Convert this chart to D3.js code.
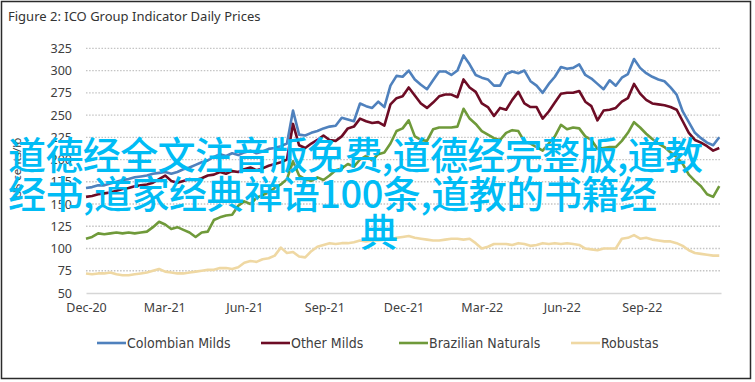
<!DOCTYPE html>
<html lang="en">
    <head>
        <meta charset="utf-8">
        <title>ICO Group Indicator Daily Prices</title>
        <script src="https://d3js.org/d3.v7.min.js"></script>
        <style>
            body { margin: 0; background: #fff; }
            svg { display: block; }
        </style>
    </head>
    <body>
        <script>
            // weekly readings, first week starting 1 Dec 2020
            const startDate = '2020-12-01';
            const yTicks = [50, 75, 100, 125, 150, 175, 200, 225, 250, 275, 300, 325];
            const xTickLabels = ['Dec-20', 'Mar-21', 'Jun-21', 'Sep-21', 'Dec-21', 'Mar-22', 'Jun-22', 'Sep-22'];
            const seriesNames = ['Colombian Milds', 'Other Milds', 'Brazilian Naturals', 'Robustas'];

            const colombianMilds = [168, 169, 171, 171, 173, 175, 177, 178, 180, 181, 182, 184, 185, 186, 184, 186, 189, 191, 194, 197,
                                    199, 203, 206, 204, 207, 205, 208, 210, 207, 209, 212, 213, 215, 218, 255, 228, 227, 230, 232, 235,
                                    237, 238, 247, 245, 243, 263, 260, 258, 265, 259, 283, 294, 293, 300, 290, 284, 279, 289, 299, 299,
                                    295, 300, 317, 307, 295, 292, 290, 283, 283, 296, 299, 297, 300, 288, 283, 275, 285, 293, 304, 302,
                                    303, 307, 295, 291, 285, 279, 289, 283, 292, 296, 313, 303, 297, 293, 290, 288, 281, 273, 254, 242,
                                    230, 224, 219, 216, 225];
            const otherMilds = [158, 159, 161, 162, 163, 165, 167, 168, 170, 171, 172, 174, 178, 182, 176, 174, 176, 178, 177, 179,
                                182, 183, 186, 184, 187, 186, 189, 191, 188, 190, 193, 195, 197, 200, 240, 216, 213, 218, 222, 227,
                                222, 221, 226, 235, 237, 246, 243, 241, 242, 238, 262, 269, 271, 281, 272, 263, 258, 264, 271, 273,
                                273, 270, 290, 281, 276, 263, 259, 249, 258, 256, 267, 276, 263, 259, 259, 246, 254, 264, 274, 275,
                                275, 277, 265, 260, 244, 255, 256, 258, 265, 269, 285, 274, 267, 263, 262, 261, 259, 256, 243, 230,
                                222, 219, 215, 210, 213];
            const brazilianNaturals = [111, 113, 117, 116, 117, 118, 117, 118, 117, 118, 119, 124, 130, 127, 122, 124, 121, 118, 113, 118,
                                       119, 132, 135, 137, 138, 148, 153, 150, 157, 160, 163, 168, 172, 178, 198, 182, 178, 176, 180, 177,
                                       182, 188, 190, 195, 192, 200, 204, 199, 206, 208, 218, 232, 235, 244, 226, 222, 221, 234, 236, 236,
                                       236, 237, 257, 246, 240, 232, 228, 224, 222, 230, 233, 232, 220, 218, 214, 210, 218, 226, 239, 234,
                                       236, 235, 226, 222, 212, 213, 214, 214, 221, 230, 242, 236, 229, 223, 218, 214, 208, 203, 195, 183,
                                       176, 170, 161, 158, 170];
            const robustas = [72, 71, 72, 72, 73, 71, 70, 70, 71, 72, 73, 75, 77, 74, 73, 72, 72, 73, 74, 75,
                              76, 76, 78, 78, 77, 79, 84, 86, 85, 88, 89, 92, 101, 95, 96, 91, 90, 97, 102, 104,
                              106, 105, 106, 106, 107, 109, 108, 109, 109, 110, 110, 112, 113, 114, 112, 111, 110, 109, 109, 110,
                              111, 111, 110, 111, 106, 100, 102, 105, 105, 105, 104, 106, 105, 103, 104, 106, 105, 106, 105, 106,
                              105, 104, 100, 99, 98, 100, 100, 100, 111, 112, 115, 111, 112, 110, 109, 108, 108, 106, 103, 98,
                              95, 94, 93, 92, 92];

            const overlayLines = ['道德经全文注音版免费,道德经完整版,道教', '经书,道家经典禅语100条,道教的书籍经', '典'];

            const w = 755;
            const h = 382;
            const colors = ['#4f81bd', '#6d0c25', '#6f9a3a', '#efd8a3'];

            const svg = d3.select('body')
                          .append('svg')
                          .attr('width', w)
                          .attr('height', h)

            svg.append('rect')
               .attr('x', 1.5)
               .attr('y', 1.5)
               .attr('width', 749)
               .attr('height', 377)
               .attr('fill', '#fff')
               .attr('stroke', '#2b2b2b')
               .attr('stroke-width', 1.5)

            svg.append('text')
               .text('Figure 2: ICO Group Indicator Daily Prices')
               .attr('x', 8)
               .attr('y', 21)
               .attr('font-family', 'Noto Sans, sans-serif')
               .attr('font-size', 13)
               .attr('fill', '#333')

            const parseTick = d3.timeParse('%b-%y');
            const start = d3.timeParse('%Y-%m-%d')(startDate);
            const dates = colombianMilds.map((d, i) => d3.timeDay.offset(start, 7 * i));

            //x-axis
            const xScale = d3.scaleTime()
                             .domain([start, new Date(2022, 11, 1)])
                             .range([86, 721])
            //y-axis
            const yScale = d3.scaleLinear()
                             .domain([50, 325])
                             .range([293, 48.3])

            // dotted gridlines
            svg.append('g')
               .selectAll('line')
               .data(yTicks.slice(1))
               .enter()
               .append('line')
               .attr('x1', 86)
               .attr('x2', 721)
               .attr('y1', d => yScale(d))
               .attr('y2', d => yScale(d))
               .attr('stroke', '#c4c4c4')
               .attr('stroke-width', 1.3)
               .attr('stroke-dasharray', '1.5,1.6')

            const yAxis = d3.axisLeft(yScale)
                            .tickValues(yTicks)
                            .tickSize(0)
                            .tickPadding(14)
            svg.append('g')
               .attr('transform', 'translate(86,0)')
               .call(yAxis)
               .call(g => g.select('.domain').remove())
               .call(g => g.selectAll('text')
                           .attr('font-family', 'Noto Sans, sans-serif')
                           .attr('font-size', 12.5)
                           .attr('fill', '#404040'))

            const xAxis = d3.axisBottom(xScale)
                            .tickValues(xTickLabels.map(parseTick))
                            .tickFormat(d3.timeFormat('%b-%y'))
                            .tickSize(0)
                            .tickPadding(10)
            svg.append('g')
               .attr('transform', 'translate(0,' + yScale(50) + ')')
               .call(xAxis)
               .call(g => g.select('.domain')
                           .attr('stroke', '#d6d6d6')
                           .attr('stroke-width', 1.5))
               .call(g => g.selectAll('text')
                           .attr('font-family', 'Noto Sans, sans-serif')
                           .attr('font-size', 12.5)
                           .attr('fill', '#404040'))

            svg.append('text')
               .text('US cents/lb')
               .attr('transform', 'translate(21,168) rotate(-90)')
               .attr('text-anchor', 'middle')
               .attr('font-family', 'Noto Sans, sans-serif')
               .attr('font-size', 11.5)
               .attr('fill', '#404040')

            // series lines
            const allSeries = [colombianMilds, otherMilds, brazilianNaturals, robustas];
            const line = d3.line()
                           .x((d, i) => xScale(dates[i]))
                           .y(d => yScale(d))

            svg.append('g')
               .selectAll('path')
               .data(allSeries)
               .enter()
               .append('path')
               .attr('d', d => line(d))
               .attr('fill', 'none')
               .attr('stroke', (d, i) => colors[i])
               .attr('stroke-width', 2.6)
               .attr('stroke-linejoin', 'round')

            // legend
            const legendX = [97, 261, 399, 571];
            const legend = svg.append('g')
                              .selectAll('g')
                              .data(seriesNames)
                              .enter()
                              .append('g')
                              .attr('transform', (d, i) => 'translate(' + legendX[i] + ',343)')
            legend.append('line')
                  .attr('x1', 0)
                  .attr('x2', 29)
                  .attr('stroke', (d, i) => colors[i])
                  .attr('stroke-width', 2.6)
            legend.append('text')
                  .text(d => d)
                  .attr('x', 30)
                  .attr('y', 5)
                  .attr('font-family', 'Liberation Sans Narrow, DejaVu Sans Condensed, sans-serif')
                  .attr('font-stretch', 'condensed')
                  .attr('font-size', 14)
                  .attr('fill', '#404040')

            // overlay text on top of the chart
            const overlayX = [8, 8, 360];
            const overlayLen = [695, 649, null];
            svg.append('g')
               .selectAll('text')
               .data(overlayLines)
               .enter()
               .append('text')
               .text(d => d)
               .attr('x', (d, i) => overlayX[i])
               .attr('y', (d, i) => 169 + i * 38.5)
               .attr('textLength', (d, i) => overlayLen[i])
               .attr('lengthAdjust', 'spacing')
               .attr('font-family', 'Noto Sans CJK SC, sans-serif')
               .attr('font-weight', 500)
               .attr('font-size', 38)
               .attr('fill', '#00bcf5')
        </script>
    </body>
</html>
